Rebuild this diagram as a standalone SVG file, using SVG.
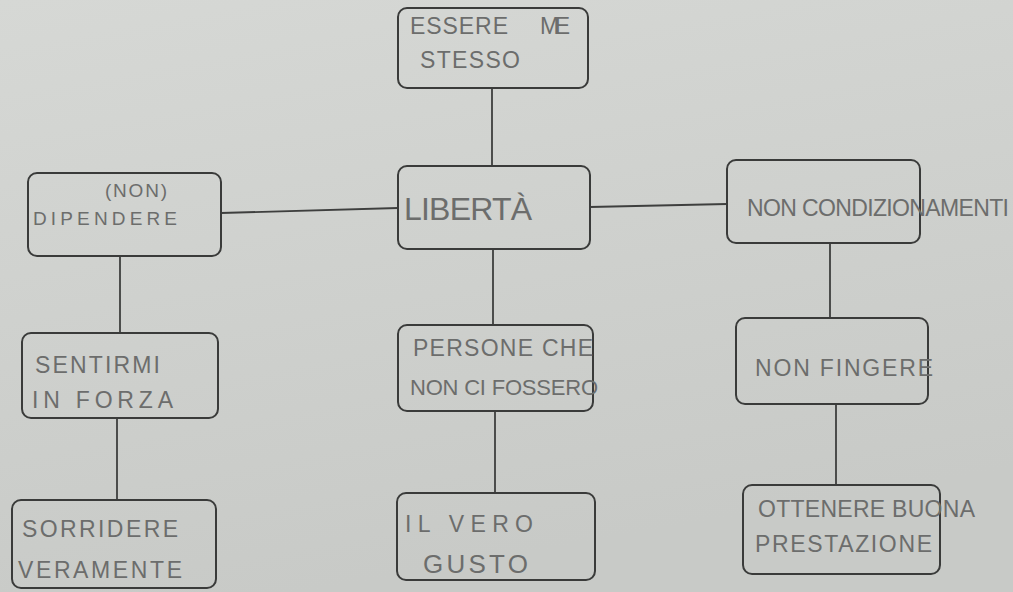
<svg xmlns="http://www.w3.org/2000/svg" width="1013" height="592" viewBox="0 0 1013 592">
<defs>
<linearGradient id="paper" x1="0" y1="0" x2="0.3" y2="1">
<stop offset="0" stop-color="#d6d8d5"/>
<stop offset="1" stop-color="#c8cac7"/>
</linearGradient>
</defs>
<style>
.box{fill:none;stroke:#3a3b3a;stroke-width:2}
.t{font-family:"Liberation Sans",Arial,sans-serif;font-size:23px;fill:#6c6d6c}
.c{stroke:#3e3f3e;stroke-width:1.8;fill:none}
</style>
<rect x="0" y="0" width="1013" height="592" fill="url(#paper)"/>
<g id="connectors">
<line class="c" x1="492" y1="88" x2="492" y2="166"/>
<line class="c" x1="221" y1="213" x2="398" y2="208"/>
<line class="c" x1="590" y1="207" x2="727" y2="204"/>
<line class="c" x1="493" y1="249" x2="493" y2="325"/>
<line class="c" x1="495" y1="411" x2="495" y2="493"/>
<line class="c" x1="120" y1="256" x2="120" y2="333"/>
<line class="c" x1="117" y1="418" x2="117" y2="500"/>
<line class="c" x1="830" y1="243" x2="830" y2="318"/>
<line class="c" x1="836" y1="404" x2="836" y2="485"/>
</g>
<g id="essere">
<rect class="box" x="398" y="8" width="190" height="80" rx="9"/>
<text class="t" x="410" y="34" textLength="98">ESSERE</text><text class="t" x="540" y="34" textLength="30">ME</text>
<text class="t" x="420" y="68" textLength="100">STESSO</text>
</g>
<g id="dipendere">
<rect class="box" x="28" y="173" width="193" height="83" rx="9"/>
<text class="t" x="105" y="197" style="font-size:19px" textLength="62">(NON)</text>
<text class="t" x="33" y="225" style="font-size:19px" textLength="144">DIPENDERE</text>
</g>
<g id="liberta">
<rect class="box" x="398" y="166" width="192" height="83" rx="9"/>
<text class="t" x="404" y="220" style="font-size:32px" textLength="128">LIBERTÀ</text>
</g>
<g id="condizionamenti">
<rect class="box" x="727" y="160" width="193" height="83" rx="9"/>
<text class="t" x="747" y="216" style="font-size:23px" textLength="262">NON CONDIZIONAMENTI</text>
</g>
<g id="sentirmi">
<rect class="box" x="22" y="333" width="196" height="85" rx="9"/>
<text class="t" x="35" y="373" textLength="125">SENTIRMI</text>
<text class="t" x="32" y="408" textLength="141">IN FORZA</text>
</g>
<g id="persone">
<rect class="box" x="398" y="325" width="195" height="86" rx="9"/>
<text class="t" x="413" y="356" textLength="180">PERSONE CHE</text>
<text class="t" x="410" y="395" style="font-size:22px" textLength="188">NON CI FOSSERO</text>
</g>
<g id="fingere">
<rect class="box" x="736" y="318" width="192" height="86" rx="9"/>
<text class="t" x="755" y="376" textLength="178">NON FINGERE</text>
</g>
<g id="sorridere">
<rect class="box" x="12" y="500" width="204" height="88" rx="9"/>
<text class="t" x="22" y="537" textLength="156">SORRIDERE</text>
<text class="t" x="18" y="578" textLength="164">VERAMENTE</text>
</g>
<g id="gusto">
<rect class="box" x="397" y="493" width="198" height="87" rx="9"/>
<text class="t" x="405" y="532" textLength="128">IL VERO</text>
<text class="t" x="423" y="573" style="font-size:26px" textLength="105">GUSTO</text>
</g>
<g id="prestazione">
<rect class="box" x="743" y="485" width="197" height="89" rx="9"/>
<text class="t" x="758" y="517" textLength="217">OTTENERE BUONA</text>
<text class="t" x="755" y="552" textLength="177">PRESTAZIONE</text>
</g>
</svg>
